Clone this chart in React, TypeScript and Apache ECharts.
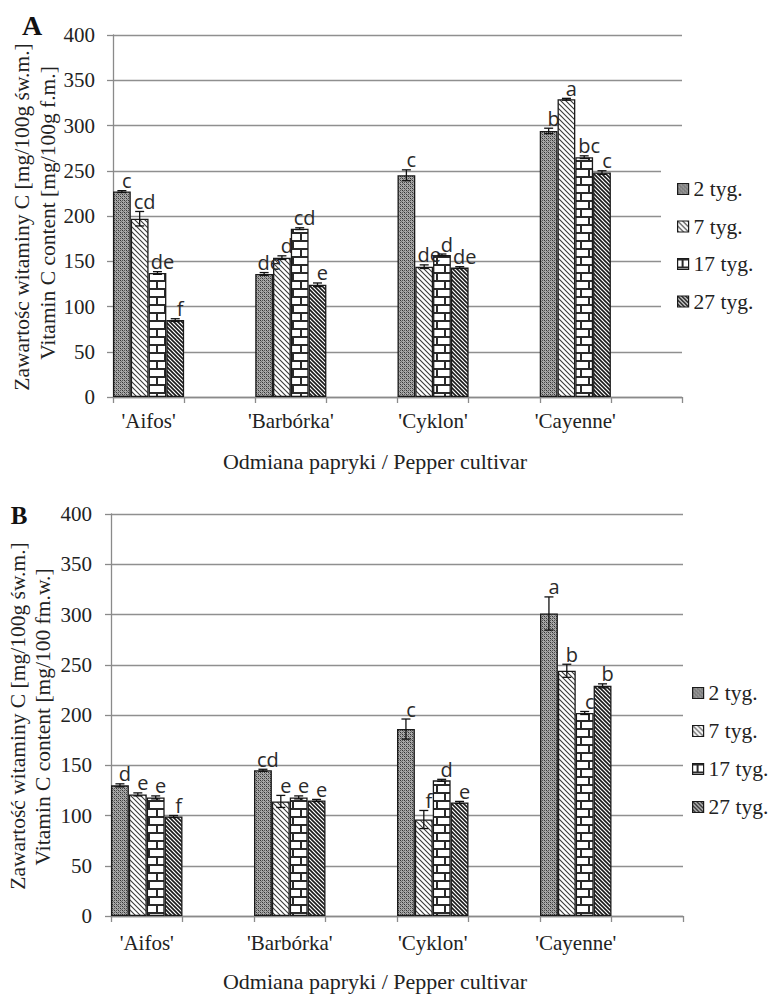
import React, { useEffect, useRef } from 'react';
import * as echarts from 'echarts';

// ---------- data ----------
const cultivars = ["'Aifos'", "'Barbórka'", "'Cyklon'", "'Cayenne'"];
const weeks = ['2 tyg.', '7 tyg.', '17 tyg.', '27 tyg.'];
const yMin = 0;
const yMax = 400;
const yStep = 50;

// Panel A (mg/100g f.m.)
const a2 = [227, 136, 245, 294];
const a7 = [197, 154, 144, 329];
const a17 = [137, 186, 157, 265];
const a27 = [85, 124, 143, 248];
const a2Err = [1, 1.5, 6, 3];
const a7Err = [8, 2, 2, 1];
const a17Err = [1.5, 1, 1, 1.5];
const a27Err = [1.5, 2, 1, 2];
const a2Let = ['c', 'de', 'c', 'b'];
const a7Let = ['cd', 'd', 'de', 'a'];
const a17Let = ['de', 'cd', 'd', 'bc'];
const a27Let = ['f', 'e', 'de', 'c'];

// Panel B
const b2 = [130, 145, 186, 301];
const b7 = [121, 114, 96, 244];
const b17 = [118, 118, 135, 202];
const b27 = [99, 115, 113, 229];
const b2Err = [1.5, 1, 10, 16.5];
const b7Err = [1.5, 6, 9, 6.5];
const b17Err = [1.5, 1.5, 1, 1.5];
const b27Err = [1, 1, 1, 2];
const b2Let = ['d', 'cd', 'c', 'a'];
const b7Let = ['e', 'e', 'f', 'b'];
const b17Let = ['e', 'e', 'd', 'c'];
const b27Let = ['f', 'e', 'e', 'b'];

const titleA1 = 'Zawartośc witaminy C [mg/100g św.m.]';
const titleA2 = 'Vitamin C content [mg/100g f.m.]';
const titleB1 = 'Zawartość witaminy C [mg/100g św.m.]';
const titleB2 = 'Vitamin C content [mg/100 fm.w.]';
const xTitle = 'Odmiana papryki / Pepper cultivar';

// ---------- helpers ----------
const SERIF = '"Liberation Serif", "Times New Roman", serif';
const SANS = '"Open Sans", "Liberation Sans", sans-serif';

// each cultivar followed by an empty slot
const categories: string[] = [];
cultivars.forEach((c, i) => {
  categories.push(c);
  categories.push('__gap' + i);
});

const svgUrl = (w: number, h: number, body: string) =>
  'data:image/svg+xml;charset=utf-8,' +
  encodeURIComponent(
    `<svg xmlns="http://www.w3.org/2000/svg" width="${w}" height="${h}" shape-rendering="crispEdges">${body}</svg>`
  );

const pat = (w: number, h: number, body: string) => ({
  image: svgUrl(w, h, body),
  imageWidth: w,
  imageHeight: h,
  repeat: 'repeat',
});

const patterns = [
  pat(
    4,
    4,
    '<rect width="4" height="4" fill="#a8a8a8"/>' +
      '<rect x="0" y="0" width="1" height="1" fill="#333"/><rect x="2" y="2" width="1" height="1" fill="#333"/>' +
      '<rect x="2" y="0" width="1" height="1" fill="#555"/><rect x="0" y="2" width="1" height="1" fill="#555"/>' +
      '<rect x="1" y="1" width="1" height="1" fill="#707070"/><rect x="3" y="3" width="1" height="1" fill="#707070"/>'
  ),
  {
    image: svgUrl(
      5,
      5,
      '<rect width="5" height="5" fill="#fff"/><path d="M-1,-1 L6,6 M-1,4 L1,6 M4,-1 L6,1" stroke="#3a3a3a" stroke-width="1.1" shape-rendering="auto"/>'
    ),
    imageWidth: 5,
    imageHeight: 5,
    repeat: 'repeat',
  },
  pat(
    16,
    16,
    '<rect width="16" height="16" fill="#fff"/>' +
      '<rect x="0" y="0" width="16" height="1.5" fill="#2a2a2a"/><rect x="0" y="8" width="16" height="1.5" fill="#2a2a2a"/>' +
      '<rect x="4" y="0" width="1.5" height="8" fill="#2a2a2a"/><rect x="12" y="8" width="1.5" height="8" fill="#2a2a2a"/>'
  ),
  {
    image: svgUrl(
      4,
      4,
      '<rect width="4" height="4" fill="#fff"/><path d="M-1,-1 L5,5 M-1,3 L1,5 M3,-1 L5,1" stroke="#1a1a1a" stroke-width="1.6" shape-rendering="auto"/>'
    ),
    imageWidth: 4,
    imageHeight: 4,
    repeat: 'repeat',
  },
];

type Panel = {
  vals: number[][];
  errs: number[][];
  lets: string[][];
};

const panelA: Panel = {
  vals: [a2, a7, a17, a27],
  errs: [a2Err, a7Err, a17Err, a27Err],
  lets: [a2Let, a7Let, a17Let, a27Let],
};
const panelB: Panel = {
  vals: [b2, b7, b17, b27],
  errs: [b2Err, b7Err, b17Err, b27Err],
  lets: [b2Let, b7Let, b17Let, b27Let],
};

function barSeries(p: Panel, gi: number) {
  return weeks.map((w, s) => {
    const data: (number | string)[] = [];
    p.vals[s].forEach((v) => {
      data.push(v);
      data.push('-');
    });
    return {
      type: 'bar',
      name: w,
      xAxisIndex: gi,
      yAxisIndex: gi,
      barGap: '0%',
      barCategoryGap: '0%',
      data,
      itemStyle: {
        color: patterns[s],
        borderColor: '#1a1a1a',
        borderWidth: 1.3,
      },
      z: 2,
    };
  });
}

function errSeries(p: Panel, gi: number) {
  const data: number[][] = [];
  const letters: string[] = [];
  weeks.forEach((_, s) => {
    p.vals[s].forEach((v, c) => {
      data.push([c * 2, v, p.errs[s][c], s]);
      letters.push(p.lets[s][c]);
    });
  });
  return {
    type: 'custom',
    xAxisIndex: gi,
    yAxisIndex: gi,
    z: 5,
    silent: true,
    data,
    renderItem: (params: any, api: any) => {
      const cat = api.value(0);
      const v = api.value(1);
      const e = api.value(2);
      const s = api.value(3);
      const band = api.size([1, 0])[0];
      const c = api.coord([cat, v]);
      const bw = band / 4;
      const x = c[0] - band / 2 + (s + 0.5) * bw;
      const yTop = api.coord([cat, v + e])[1];
      const yBot = api.coord([cat, v - e])[1];
      const cap = 4.5;
      const ls = { stroke: '#111', lineWidth: 1.3 };
      return {
        type: 'group',
        children: [
          { type: 'line', shape: { x1: x, y1: yTop, x2: x, y2: yBot }, style: ls },
          { type: 'line', shape: { x1: x - cap, y1: yTop, x2: x + cap, y2: yTop }, style: ls },
          { type: 'line', shape: { x1: x - cap, y1: yBot, x2: x + cap, y2: yBot }, style: ls },
          {
            type: 'text',
            style: {
              text: letters[params.dataIndex],
              x: x + 5,
              y: yTop,
              align: 'center',
              verticalAlign: 'bottom',
              font: '20px ' + SANS,
              fill: '#2a2a2a',
            },
          },
        ],
      };
    },
  };
}

function xAxis(gi: number) {
  return {
    type: 'category',
    gridIndex: gi,
    data: categories,
    boundaryGap: true,
    axisLine: { show: true, lineStyle: { color: '#8a8a8a', width: 1.3 } },
    axisTick: { show: true, alignWithLabel: false, interval: 0, length: 6, lineStyle: { color: '#8a8a8a', width: 1.3 } },
    axisLabel: {
      interval: 0,
      margin: gi === 0 ? 13 : 16,
      fontFamily: SERIF,
      fontSize: 21,
      color: '#222',
      formatter: (v: string) => (v.indexOf('__gap') === 0 ? '' : v),
    },
    splitLine: { show: false },
  };
}

function yAxis(gi: number) {
  return {
    type: 'value',
    gridIndex: gi,
    min: yMin,
    max: yMax,
    interval: yStep,
    axisLine: { show: true, lineStyle: { color: '#8a8a8a', width: 1.3 } },
    axisTick: { show: true, length: 6, lineStyle: { color: '#8a8a8a', width: 1.3 } },
    axisLabel: { margin: gi === 0 ? 18 : 19, fontFamily: SERIF, fontSize: 21, color: '#222' },
    splitLine: { show: true, lineStyle: { color: '#8f8f8f', width: 1.3 } },
  };
}

function legend(left: number, top: number, padding: number[], gap: number) {
  return {
    orient: 'vertical',
    left,
    top,
    padding,
    backgroundColor: '#fff',
    itemWidth: 11,
    itemHeight: 11,
    itemGap: gap,
    icon: 'rect',
    selectedMode: false,
    itemStyle: { borderWidth: 1.2, borderColor: '#1a1a1a' },
    textStyle: { fontFamily: SERIF, fontSize: 21.5, color: '#222' },
    data: weeks,
    z: 10,
  };
}

export default function App() {
  const ref = useRef<HTMLDivElement>(null);
  useEffect(() => {
    if (!ref.current) return;
    const chart = echarts.init(ref.current, undefined, { renderer: 'svg' });
    const option: any = {
      animation: false,
      backgroundColor: '#fff',
      grid: [
        { left: 113, top: 35, width: 569, height: 362 },
        { left: 111, top: 514, width: 572, height: 402 },
      ],
      xAxis: [xAxis(0), xAxis(1)],
      yAxis: [yAxis(0), yAxis(1)],
      legend: [legend(661, 148, [30, 20, 20, 16], 15.5), legend(692, 682, [0, 0, 0, 0], 16)],
      series: [
        ...barSeries(panelA, 0),
        errSeries(panelA, 0),
        ...barSeries(panelB, 1),
        errSeries(panelB, 1),
      ],
      graphic: [
        { type: 'text', x: 32, y: 25, style: { text: 'A', font: 'bold 28px ' + SERIF, fill: '#111', align: 'center', verticalAlign: 'middle' } },
        { type: 'text', x: 19, y: 515, style: { text: 'B', font: 'bold 25px ' + SERIF, fill: '#111', align: 'center', verticalAlign: 'middle' } },
        { type: 'text', x: 22, y: 217, rotation: Math.PI / 2, style: { text: titleA1, font: '21.5px ' + SERIF, fill: '#222', align: 'center', verticalAlign: 'middle' } },
        { type: 'text', x: 48, y: 213, rotation: Math.PI / 2, style: { text: titleA2, font: '21.5px ' + SERIF, fill: '#222', align: 'center', verticalAlign: 'middle' } },
        { type: 'text', x: 18, y: 716, rotation: Math.PI / 2, style: { text: titleB1, font: '21.5px ' + SERIF, fill: '#222', align: 'center', verticalAlign: 'middle' } },
        { type: 'text', x: 43, y: 717, rotation: Math.PI / 2, style: { text: titleB2, font: '21.5px ' + SERIF, fill: '#222', align: 'center', verticalAlign: 'middle' } },
        { type: 'text', x: 375, y: 461, style: { text: xTitle, font: '22px ' + SERIF, fill: '#222', align: 'center', verticalAlign: 'middle' } },
        { type: 'text', x: 375, y: 981, style: { text: xTitle, font: '22px ' + SERIF, fill: '#222', align: 'center', verticalAlign: 'middle' } },
      ],
    };
    chart.setOption(option);
    return () => chart.dispose();
  }, []);
  return (
    <div
      ref={ref}
      style={{ position: 'absolute', left: 0, top: 0, width: 772, height: 994, background: '#fff' }}
    />
  );
}
